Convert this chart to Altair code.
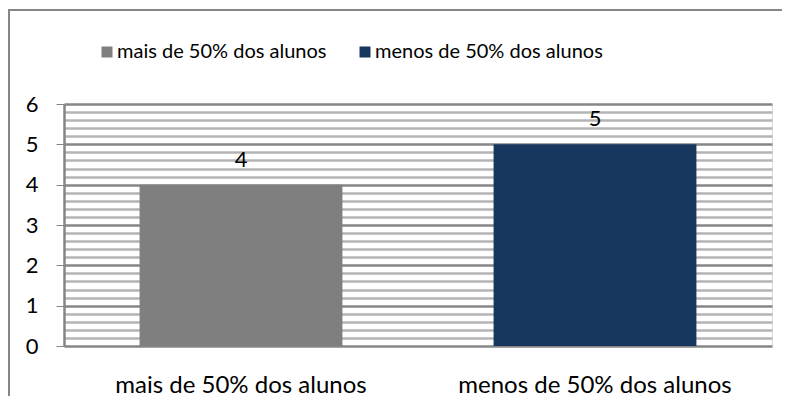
import altair as alt
import pandas as pd

categories = ["mais de 50% dos alunos", "menos de 50% dos alunos"]
values = [4, 5]
colors = ["#7f7f7f", "#17375e"]
y_grid = [round(i * 0.2, 1) for i in range(31)]

df = pd.DataFrame({"cat": categories, "val": values})

FONT = "Lato"
is_major = "abs(datum.value - round(datum.value)) < 0.001"

base = alt.Chart(df).encode(
    x=alt.X("cat:N", sort=categories,
            scale=alt.Scale(paddingInner=0.427, paddingOuter=0.2135),
            axis=alt.Axis(title=None, labelAngle=0, labelFontSize=24, labelFont=FONT,
                          labelColor="#000000", ticks=False, domain=False, labelLimit=0,
                          labelPadding=27, grid=False)),
    y=alt.Y("val:Q", scale=alt.Scale(domain=[0, 6], nice=False, zero=True),
            axis=alt.Axis(title=None, values=y_grid, labelOverlap=False, labelFlush=False,
                          labelExpr=f"{is_major} ? format(datum.value, 'd') : ''",
                          labelFontSize=22, labelFont=FONT, labelColor="#000000",
                          labelPadding=18, tickSize=8,
                          tickColor={"condition": {"test": is_major, "value": "#868686"}, "value": "transparent"},
                          grid=True,
                          gridColor={"condition": {"test": is_major, "value": "#868686"}, "value": "#b4b4b4"},
                          gridWidth=2.5, domainColor="#868686", domainWidth=2.5)),
)

bars = base.mark_bar().encode(
    color=alt.Color("cat:N", sort=categories,
                    scale=alt.Scale(domain=categories, range=colors),
                    legend=alt.Legend(title=None, orient="none", direction="horizontal",
                                      legendX=33, legendY=-62, symbolType="square",
                                      symbolSize=121, symbolStrokeWidth=0, symbolOpacity=1,
                                      labelFontSize=20, labelFont=FONT, labelColor="#000000",
                                      labelLimit=0, labelOffset=0, columnPadding=28, padding=0)),
)

labels = base.mark_text(fontSize=22, font=FONT, color="#000000", dy=-18,
                        baseline="alphabetic").encode(
    text=alt.Text("val:Q"),
)

frame = alt.Chart(df).mark_rect(fill=None, stroke="#868686", strokeWidth=2, clip=False).encode(
    x=alt.value(-55), x2=alt.value(800), y=alt.value(-94), y2=alt.value(500)
)

chart = alt.layer(frame, bars, labels).properties(
    width=708, height=242,
    autosize=alt.AutoSizeParams(type="none"),
    padding={"left": 56, "top": 96, "right": 10, "bottom": 50},
).configure_view(stroke="transparent").configure(background="#ffffff")

chart.save("out.html", embed_options={"renderer": "svg", "actions": False})
